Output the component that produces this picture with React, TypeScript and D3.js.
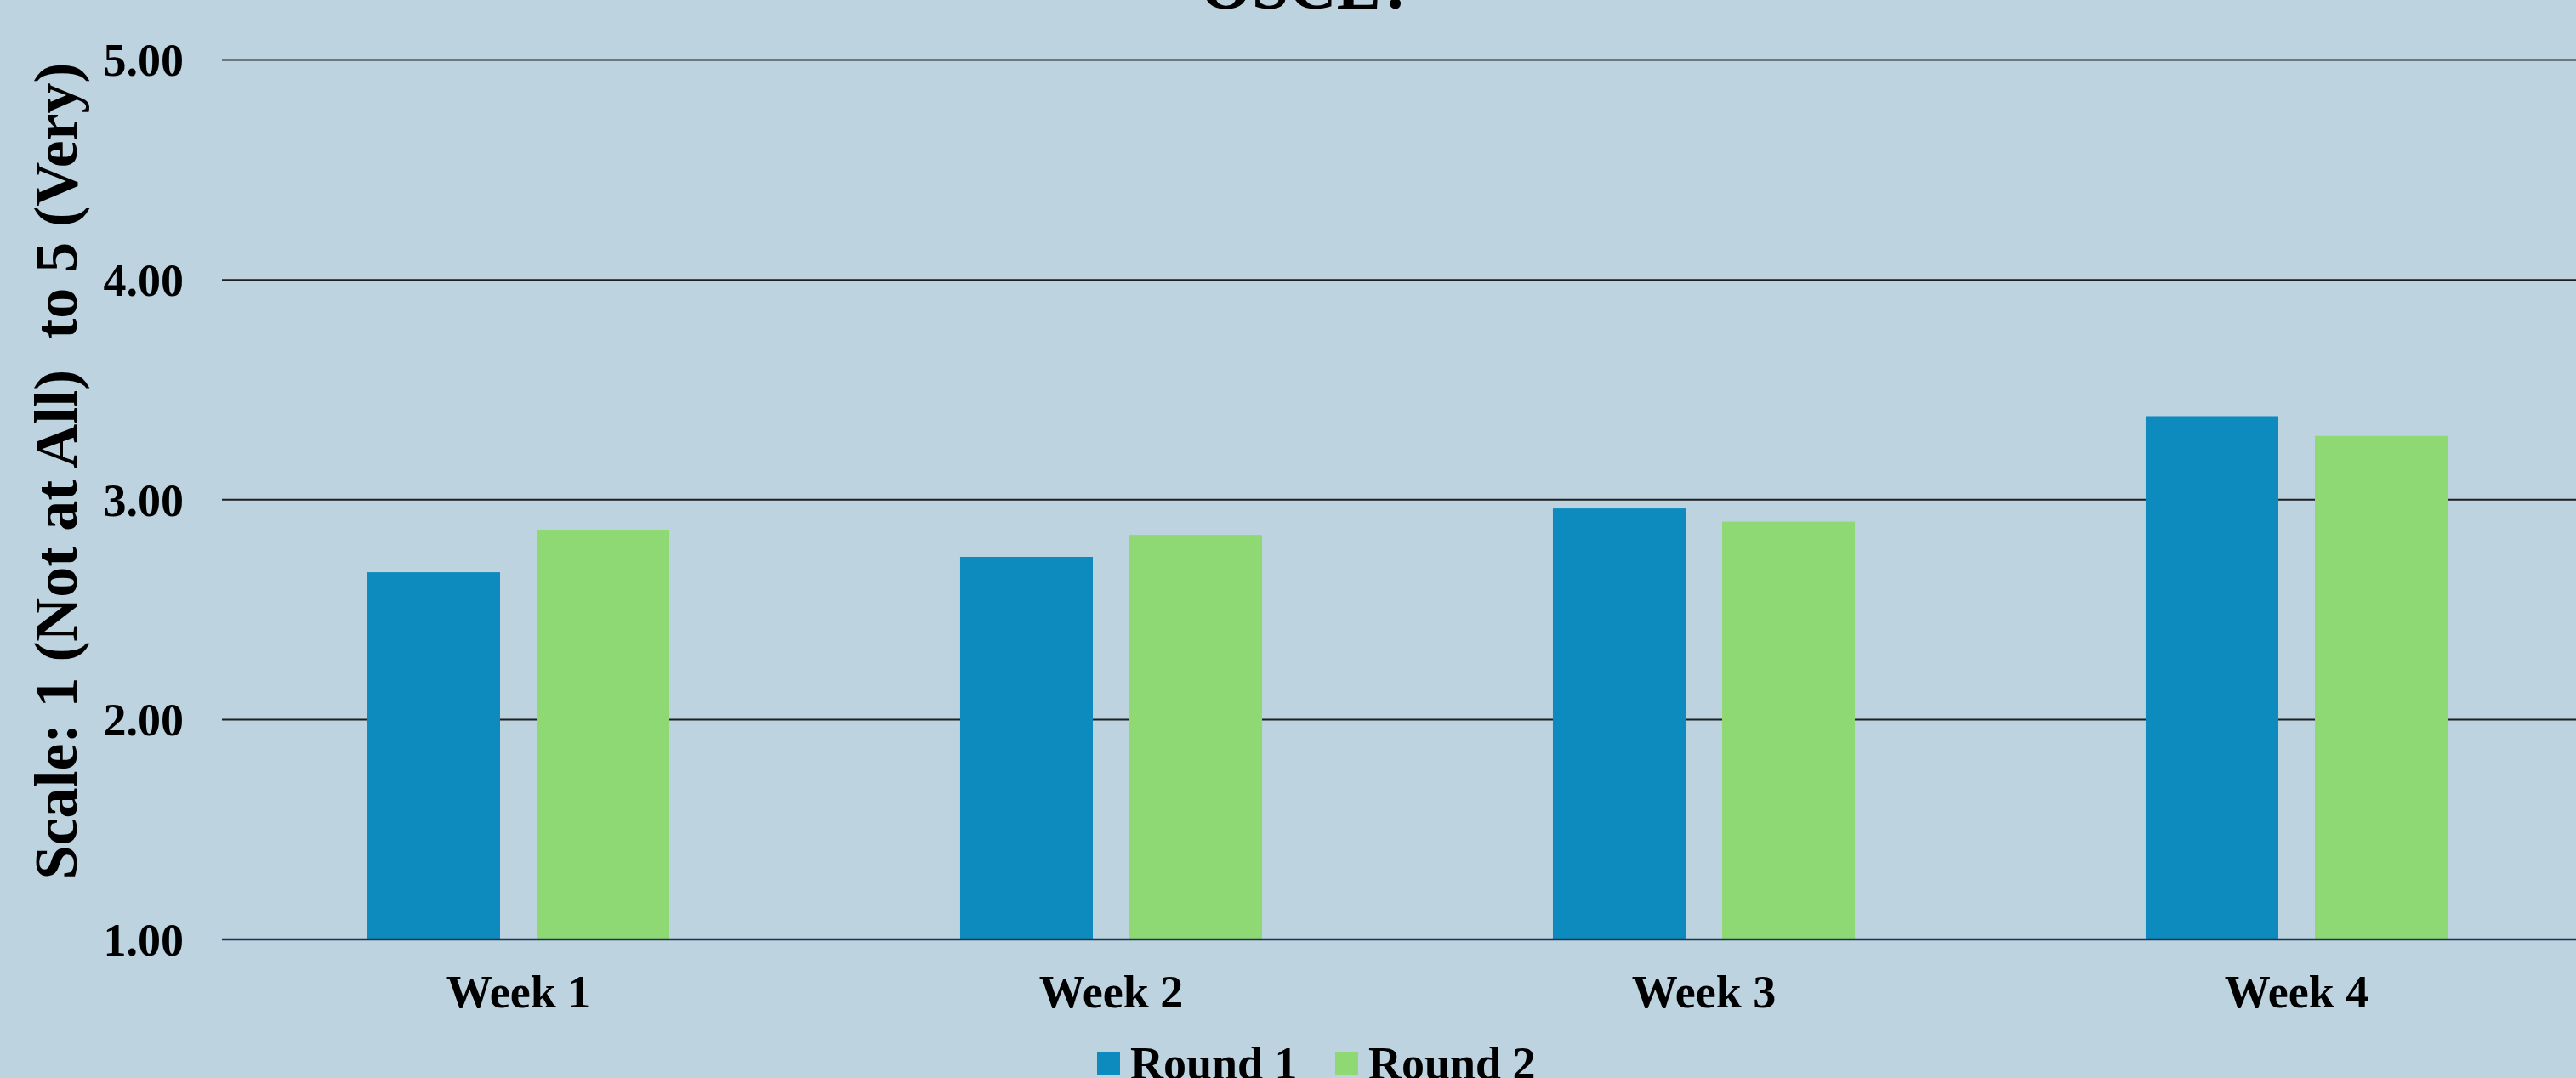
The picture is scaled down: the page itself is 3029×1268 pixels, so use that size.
import { useEffect, useRef } from "react";
import * as d3 from "d3";

const weeks = ["Week 1", "Week 2", "Week 3", "Week 4"];
const seriesNames = ["Round 1", "Round 2"];
const round1 = [2.67, 2.74, 2.96, 3.38];
const round2 = [2.86, 2.84, 2.9, 3.29];
const yTicks = [1, 2, 3, 4, 5];
const colors = ["#0e8bbe", "#8fd975"];

const W = 3029;
const H = 1268;
const FONT = "'Liberation Serif', 'Times New Roman', serif";

const App = () => {
  const svgRef = useRef(null);

  useEffect(() => {
    const svg = d3.select(svgRef.current);
    svg.selectAll("*").remove();

    const left = 261;
    const step = 697;

    const x = d3
      .scaleBand()
      .domain(weeks)
      .range([left, left + step * weeks.length]);

    const x1 = d3
      .scaleBand()
      .domain(seriesNames)
      .range([0, x.bandwidth()])
      .paddingInner(0.216)
      .paddingOuter(0.859);

    const y = d3.scaleLinear().domain([1, 5]).range([1105, 70.5]);

    svg
      .append("rect")
      .attr("width", W)
      .attr("height", H)
      .attr("fill", "#bdd3df");

    // title (top lines cut off in the source)
    svg
      .append("text")
      .attr("x", 1537)
      .attr("y", 10)
      .attr("text-anchor", "middle")
      .attr("font-size", 78)
      .attr("font-weight", "bold")
      .attr("font-family", FONT)
      .text("OSCE?");

    // gridlines
    svg
      .append("g")
      .selectAll("line")
      .data(yTicks.filter((d) => d > 1))
      .join("line")
      .attr("x1", left)
      .attr("x2", W)
      .attr("y1", (d) => y(d))
      .attr("y2", (d) => y(d))
      .attr("stroke", "#1e1e1e")
      .attr("stroke-width", 2);

    // y tick labels
    svg
      .append("g")
      .selectAll("text")
      .data(yTicks)
      .join("text")
      .attr("x", 216)
      .attr("y", (d) => y(d))
      .attr("dy", "0.35em")
      .attr("text-anchor", "end")
      .attr("font-size", 54)
      .attr("font-weight", "bold")
      .attr("font-family", FONT)
      .text((d) => d3.format(".2f")(d));

    // bars
    const data = weeks.map((w, i) => ({ week: w, vals: [round1[i], round2[i]] }));
    const groups = svg
      .append("g")
      .selectAll("g")
      .data(data)
      .join("g")
      .attr("transform", (d) => `translate(${x(d.week)},0)`);

    groups
      .selectAll("rect")
      .data((d) => d.vals.map((v, j) => ({ key: seriesNames[j], v, j })))
      .join("rect")
      .attr("x", (d) => x1(d.key))
      .attr("width", x1.bandwidth())
      .attr("y", (d) => y(d.v))
      .attr("height", (d) => y(1) - y(d.v))
      .attr("fill", (d) => colors[d.j]);

    // baseline axis
    svg
      .append("line")
      .attr("x1", left)
      .attr("x2", W)
      .attr("y1", y(1))
      .attr("y2", y(1))
      .attr("stroke", "#1a3550")
      .attr("stroke-width", 2.5);

    // category labels
    svg
      .append("g")
      .selectAll("text")
      .data(weeks)
      .join("text")
      .attr("x", (d) => x(d) + x.bandwidth() / 2)
      .attr("y", 1185)
      .attr("text-anchor", "middle")
      .attr("font-size", 54)
      .attr("font-weight", "bold")
      .attr("font-family", FONT)
      .text((d) => d);

    // y axis title
    svg
      .append("text")
      .attr("transform", "translate(90,554) rotate(-90)")
      .attr("text-anchor", "middle")
      .attr("font-size", 72)
      .attr("font-weight", "bold")
      .attr("font-family", FONT)
      .style("white-space", "pre")
      .text("Scale: 1 (Not at All)  to 5 (Very)");

    // legend
    const legend = svg.append("g").attr("transform", "translate(1290,1237)");
    const offsets = [0, 280];
    seriesNames.forEach((name, i) => {
      const g = legend.append("g").attr("transform", `translate(${offsets[i]},0)`);
      g.append("rect").attr("width", 27).attr("height", 27).attr("fill", colors[i]);
      g.append("text")
        .attr("x", 39)
        .attr("y", 32)
        .attr("font-size", 54)
        .attr("font-weight", "bold")
        .attr("font-family", FONT)
        .text(name);
    });
  }, []);

  return (
    <>
      <style>{"body{margin:0}"}</style>
      <svg ref={svgRef} width={W} height={H} style={{ display: "block" }} />
    </>
  );
};

export default App;
